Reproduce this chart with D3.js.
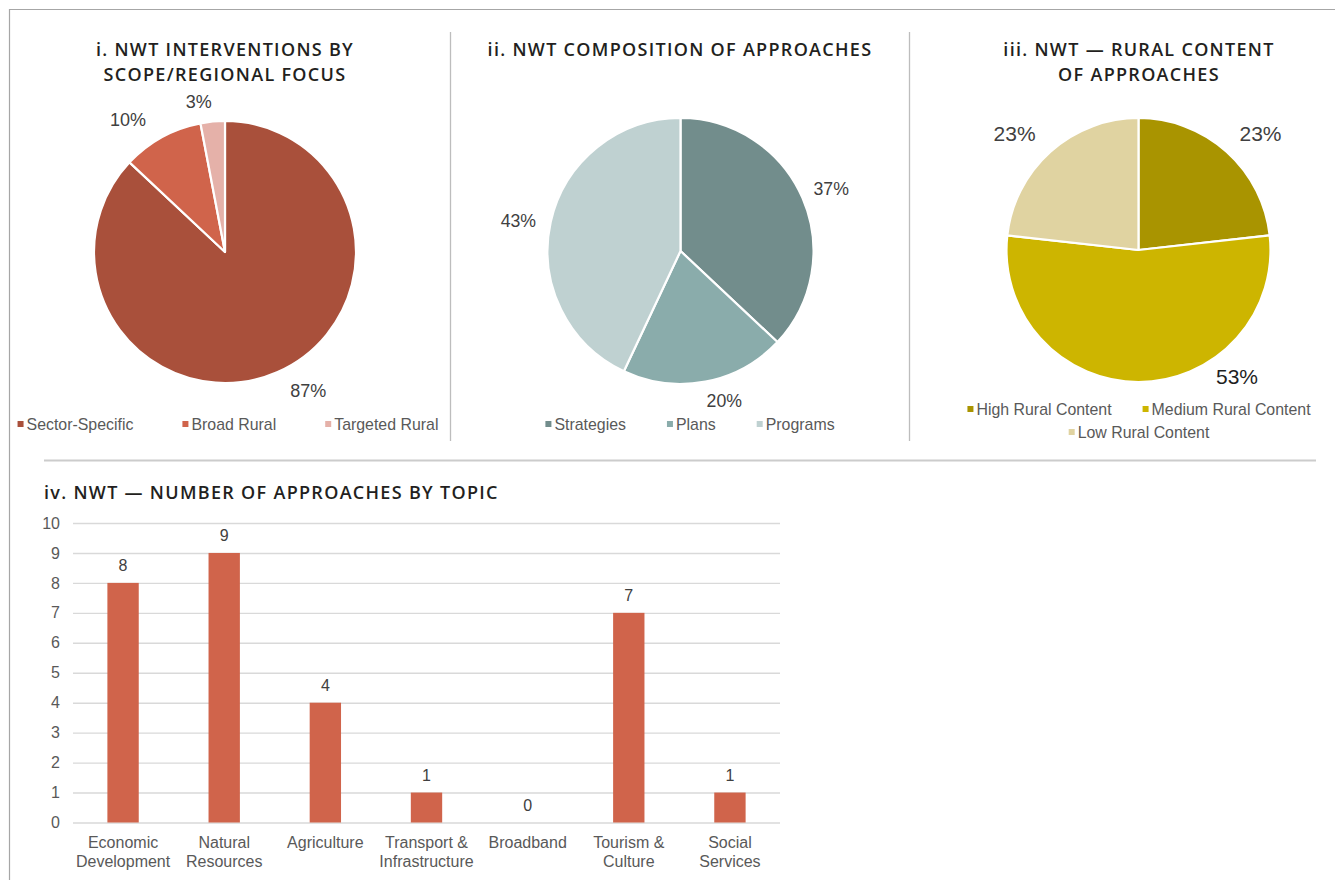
<!DOCTYPE html>
<html>
<head>
<meta charset="utf-8">
<script src="https://cdn.jsdelivr.net/npm/d3@7"></script>
<style>
  body { margin: 0; background: #ffffff; }
  svg text { font-family: "Liberation Sans", Arial, sans-serif; }
  .title { font-family: "Open Sans", "Liberation Sans", sans-serif !important; font-weight: 600; fill: #231f20; letter-spacing: 1.3px; }
</style>
</head>
<body>
<svg id="fig" width="1335" height="880"></svg>
<script>
// i. interventions by scope / regional focus (percent of interventions)
const scopeLabels = ["Sector-Specific", "Broad Rural", "Targeted Rural"];
const scopeShares = [87, 10, 3];

// ii. composition of approaches (percent)
const typeLabels = ["Strategies", "Plans", "Programs"];
const typeShares = [37, 20, 43];

// iii. rural content of approaches (percent)
const ruralLabels = ["High Rural Content", "Medium Rural Content", "Low Rural Content"];
const ruralShares = [23, 53, 23];

// iv. number of approaches by topic
const topicLabels = [
  ["Economic", "Development"], ["Natural", "Resources"], ["Agriculture"],
  ["Transport &", "Infrastructure"], ["Broadband"], ["Tourism &", "Culture"],
  ["Social", "Services"]
];
const topicCounts = [8, 9, 4, 1, 0, 7, 1];
const countTicks = [0, 1, 2, 3, 4, 5, 6, 7, 8, 9, 10];

const svg = d3.select("#fig");
svg.append("rect").attr("width", 1335).attr("height", 880).attr("fill", "#ffffff");

// page frame and panel dividers
const rule = (x1, y1, x2, y2, color, w) =>
  svg.append("line").attr("x1", x1).attr("y1", y1).attr("x2", x2).attr("y2", y2)
    .attr("stroke", color).attr("stroke-width", w);
rule(9, 9.5, 1335, 9.5, "#a6a6a6", 1.2);
rule(9.5, 9, 9.5, 880, "#a6a6a6", 1.2);
rule(450.5, 32, 450.5, 441, "#bdbdbd", 1.3);
rule(909.5, 32, 909.5, 441, "#bdbdbd", 1.3);
rule(44, 460.5, 1316, 460.5, "#cccccc", 2);

function title(lines, x, y, anchor) {
  const t = svg.append("text").attr("class", "title")
    .attr("x", x).attr("y", y).attr("text-anchor", anchor)
    .style("font-size", "18px");
  lines.forEach((l, i) => t.append("tspan").attr("x", x).attr("dy", i ? 25 : 0).text(l));
}

function legend(labels, colors, rows, cx, ys, gap) {
  const fs = 15.9;
  rows.forEach((row, r) => {
    const items = row.map(i => {
      const g = svg.append("g");
      const txt = g.append("text").attr("y", ys[r]).attr("dominant-baseline", "central")
        .style("font-size", fs + "px").attr("fill", "#595959").text(labels[i]);
      const w = txt.node().getComputedTextLength();
      return { g, txt, w, i };
    });
    const total = d3.sum(items, d => d.w + 9) + gap * (items.length - 1);
    let x = cx - total / 2;
    items.forEach(it => {
      it.g.insert("rect", "text").attr("x", x).attr("y", ys[r] - 3).attr("width", 6).attr("height", 6)
        .attr("fill", colors[it.i]);
      it.txt.attr("x", x + 9);
      x += it.w + 9 + gap;
    });
  });
}

function pieChart(cfg) {
  const g = svg.append("g").attr("transform", `translate(${cfg.cx},${cfg.cy})`);
  const slices = d3.pie().sort(null).value(d => d.v)(
    cfg.labels.map((l, i) => ({ l, v: cfg.values[i], c: cfg.colors[i] }))
  );
  const arc = d3.arc().innerRadius(0).outerRadius(cfg.r);
  g.selectAll("path").data(slices).join("path")
    .attr("d", arc).attr("fill", d => d.data.c)
    .attr("stroke", "#ffffff").attr("stroke-width", 2.2).attr("stroke-linejoin", "round");
  g.selectAll("text.pct").data(slices).join("text").attr("class", "pct")
    .each(function (d, i) {
      const a = (d.startAngle + d.endAngle) / 2 + cfg.labelTurn[i] * Math.PI / 180;
      const rr = cfg.r + cfg.labelGap[i];
      d3.select(this).attr("x", rr * Math.sin(a)).attr("y", -rr * Math.cos(a));
    })
    .attr("text-anchor", "middle").attr("dominant-baseline", "central")
    .style("font-size", cfg.labelSize + "px").attr("fill", (d, i) => cfg.labelInk[i])
    .text(d => d.data.v + "%");
}

// i.
title(["i. NWT INTERVENTIONS BY", "SCOPE/REGIONAL FOCUS"], 225, 56, "middle");
const scopeColors = ["#a9503b", "#d0644b", "#e5b1a9"];
pieChart({ cx: 225, cy: 252, r: 131, labels: scopeLabels, values: scopeShares, colors: scopeColors,
  labelTurn: [-7.5, -7.5, -4.5], labelGap: [31, 33, 21], labelSize: 18,
  labelInk: ["#404040", "#404040", "#404040"] });
legend(scopeLabels, scopeColors, [[0, 1, 2]], 228, [424], 49);

// ii.
title(["ii. NWT COMPOSITION OF APPROACHES"], 680, 56, "middle");
const typeColors = ["#728d8c", "#8aacab", "#bfd1d1"];
pieChart({ cx: 680.5, cy: 251, r: 133, labels: typeLabels, values: typeShares, colors: typeColors,
  labelTurn: [1, -5.5, -2], labelGap: [30, 23, 32], labelSize: 17.7,
  labelInk: ["#404040", "#404040", "#404040"] });
legend(typeLabels, typeColors, [[0, 1, 2]], 690, [424], 41);

// iii.
title(["iii. NWT \u2014 RURAL CONTENT", "OF APPROACHES"], 1139, 56, "middle");
const ruralColors = ["#a99400", "#cdb500", "#e0d3a1"];
pieChart({ cx: 1138.5, cy: 250, r: 132, labels: ruralLabels, values: ruralShares, colors: ruralColors,
  labelTurn: [4.4, -38, -5], labelGap: [37, 28, 38], labelSize: 21,
  labelInk: ["#404040", "#1f1f1f", "#404040"] });
legend(ruralLabels, ruralColors, [[0, 1], [2]], 1139, [409, 432], 31);

// iv.
title(["iv. NWT \u2014 NUMBER OF APPROACHES BY TOPIC"], 44, 499, "start");

const x = d3.scaleBand().domain(d3.range(topicCounts.length)).range([73, 780])
  .paddingInner(0.69).paddingOuter(0.34);
const y = d3.scaleLinear().domain([0, 10]).range([822.5, 523]);

const yAxis = svg.append("g").attr("transform", "translate(73,0)")
  .call(d3.axisLeft(y).tickValues(countTicks).tickSize(-(780 - 73)).tickPadding(13).tickFormat(d3.format("d")));
yAxis.select(".domain").remove();
yAxis.selectAll(".tick line").attr("stroke", "#d9d9d9").attr("stroke-width", 1.4);
yAxis.selectAll(".tick text").attr("fill", "#595959").style("font-size", "16px")
  .style("font-family", "'Liberation Sans', Arial, sans-serif");

svg.append("g").selectAll("rect").data(topicCounts).join("rect")
  .attr("x", (d, i) => x(i)).attr("width", x.bandwidth())
  .attr("y", d => y(d)).attr("height", d => y(0) - y(d))
  .attr("fill", "#d0644b");

svg.append("g").selectAll("text").data(topicCounts).join("text")
  .attr("x", (d, i) => x(i) + x.bandwidth() / 2).attr("y", d => y(d) - 17)
  .attr("text-anchor", "middle").attr("dominant-baseline", "central")
  .style("font-size", "16px").attr("fill", "#404040").text(d => d);

const xl = svg.append("g").selectAll("text").data(topicLabels).join("text")
  .attr("x", (d, i) => x(i) + x.bandwidth() / 2).attr("y", 842)
  .attr("text-anchor", "middle").attr("dominant-baseline", "central")
  .style("font-size", "16px").attr("fill", "#595959");
xl.each(function (lines, i) {
  const t = d3.select(this);
  lines.forEach((l, k) => t.append("tspan").attr("x", x(i) + x.bandwidth() / 2).attr("dy", k ? 19 : 0).text(l));
});
</script>
</body>
</html>
